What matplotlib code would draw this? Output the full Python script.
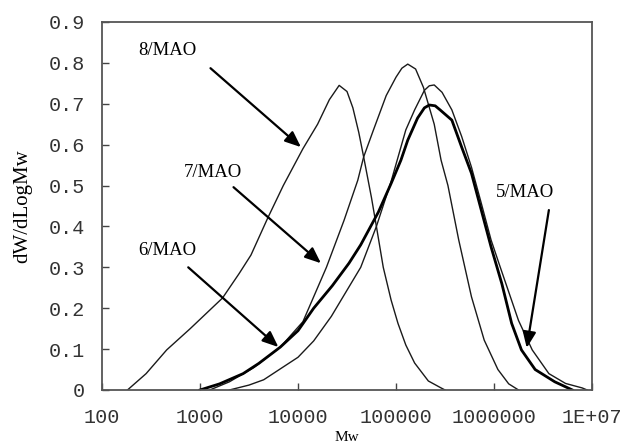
import numpy as np
import matplotlib
matplotlib.use("Agg")
import matplotlib.pyplot as plt

# GPC curves: log10(Mw) and dW/dLogMw
logmw_8 = [2.26, 2.45, 2.66, 2.90, 3.23, 3.40, 3.52, 3.69, 3.85, 4.05, 4.20,
           4.32, 4.42, 4.50, 4.56, 4.62, 4.67, 4.75, 4.80, 4.87, 4.95, 5.02,
           5.10, 5.19, 5.33, 5.46, 5.50]
w_8 = [0.0, 0.04, 0.098, 0.15, 0.225, 0.285, 0.33, 0.42, 0.50, 0.59, 0.65,
       0.71, 0.745, 0.73, 0.69, 0.63, 0.57, 0.47, 0.40, 0.30, 0.22, 0.163,
       0.11, 0.066, 0.022, 0.005, 0.0]

logmw_7 = [3.10, 3.30, 3.55, 3.82, 4.05, 4.29, 4.47, 4.61, 4.67, 4.77, 4.90,
           5.00, 5.06, 5.12, 5.20, 5.28, 5.39, 5.46, 5.53, 5.64, 5.77, 5.90,
           6.04, 6.15, 6.25]
w_7 = [0.0, 0.02, 0.055, 0.105, 0.167, 0.30, 0.415, 0.513, 0.57, 0.636, 0.72,
       0.765, 0.787, 0.797, 0.785, 0.74, 0.65, 0.562, 0.50, 0.367, 0.228, 0.122,
       0.05, 0.015, 0.0]

logmw_6 = [3.00, 3.20, 3.44, 3.60, 3.82, 4.00, 4.16, 4.35, 4.52, 4.64, 4.82,
           4.95, 5.05, 5.12, 5.22, 5.29, 5.34, 5.40, 5.45, 5.57, 5.67, 5.77,
           5.87, 5.97, 6.08, 6.18, 6.28, 6.42, 6.62, 6.80]
w_6 = [0.0, 0.015, 0.04, 0.065, 0.105, 0.145, 0.20, 0.255, 0.31, 0.355, 0.435,
       0.505, 0.562, 0.611, 0.665, 0.69, 0.697, 0.695, 0.685, 0.66, 0.594, 0.53,
       0.44, 0.35, 0.26, 0.163, 0.098, 0.05, 0.02, 0.0]

logmw_5 = [3.30, 3.50, 3.65, 4.00, 4.16, 4.34, 4.54, 4.64, 4.80, 4.95, 5.05,
           5.10, 5.19, 5.29, 5.34, 5.39, 5.47, 5.57, 5.67, 5.77, 5.87, 5.97,
           6.05, 6.15, 6.25, 6.39, 6.56, 6.73, 6.90, 6.95]
w_5 = [0.0, 0.012, 0.025, 0.08, 0.12, 0.18, 0.26, 0.30, 0.40, 0.51, 0.594,
       0.636, 0.685, 0.733, 0.744, 0.746, 0.728, 0.685, 0.62, 0.545, 0.457,
       0.367, 0.31, 0.24, 0.17, 0.098, 0.04, 0.016, 0.005, 0.0]

xticks = [1e2, 1e3, 1e4, 1e5, 1e6, 1e7]
xticklabels = ["100", "1000", "10000", "100000", "1000000", "1E+07"]
yticks = [0, 0.1, 0.2, 0.3, 0.4, 0.5, 0.6, 0.7, 0.8, 0.9]
yticklabels = ["0", "0.1", "0.2", "0.3", "0.4", "0.5", "0.6", "0.7", "0.8", "0.9"]

# labels: name, text position, arrow tail, arrow head (log10 Mw, y)
labels = ["8/MAO", "7/MAO", "6/MAO", "5/MAO"]
label_xy = [(2.666, 0.831), (3.127, 0.533), (2.666, 0.342), (6.32, 0.482)]
arrow_tail = [(3.107, 0.787), (3.342, 0.496), (2.88, 0.30), (6.56, 0.44)]
arrow_head = [(4.03, 0.594), (4.234, 0.31), (3.80, 0.105), (6.334, 0.103)]

fig = plt.figure(figsize=(6.25, 4.48), dpi=100)
ax = fig.add_axes([0.1632, 0.1295, 0.784, 0.8214])

line_col = "#1a1a1a"
ax.plot(10 ** np.array(logmw_8), w_8, color=line_col, lw=1.0)
ax.plot(10 ** np.array(logmw_7), w_7, color=line_col, lw=1.0)
ax.plot(10 ** np.array(logmw_5), w_5, color=line_col, lw=1.0)
ax.plot(10 ** np.array(logmw_6), w_6, color="black", lw=2.0)

for name, txy, tail, head in zip(labels, label_xy, arrow_tail, arrow_head):
    ax.text(10 ** txy[0], txy[1], name, ha="center", va="center",
            family="Liberation Serif", fontsize=13.5)
    ax.annotate("", xy=(10 ** head[0], head[1]), xytext=(10 ** tail[0], tail[1]),
                arrowprops=dict(arrowstyle="-|>,head_length=0.6,head_width=0.25",
                                color="black", lw=1.6, mutation_scale=16,
                                shrinkA=0, shrinkB=0))

ax.set_xscale("log")
ax.set_xlim(1e2, 1e7)
ax.set_ylim(0, 0.9)
ax.minorticks_off()
ax.set_xticks(xticks)
ax.set_xticklabels(xticklabels)
ax.set_yticks(yticks)
ax.set_yticklabels(yticklabels)

mono = "Liberation Mono"
for lab in ax.get_xticklabels() + ax.get_yticklabels():
    lab.set_family(mono)
    lab.set_fontsize(14.5)
    lab.set_color("#333333")

ax.tick_params(axis="both", direction="in", length=5, width=1.0, color="#444444")
ax.tick_params(axis="x", pad=13)
ax.tick_params(axis="y", pad=12)

for sp in ax.spines.values():
    sp.set_color("#555555")
    sp.set_linewidth(1.3)

ax.set_xlabel("Mw", family="Liberation Serif", fontsize=11, labelpad=3)
ax.set_ylabel("dW/dLogMw", family="Liberation Serif", fontsize=15, labelpad=12)

fig.savefig("out.png", dpi=100)
